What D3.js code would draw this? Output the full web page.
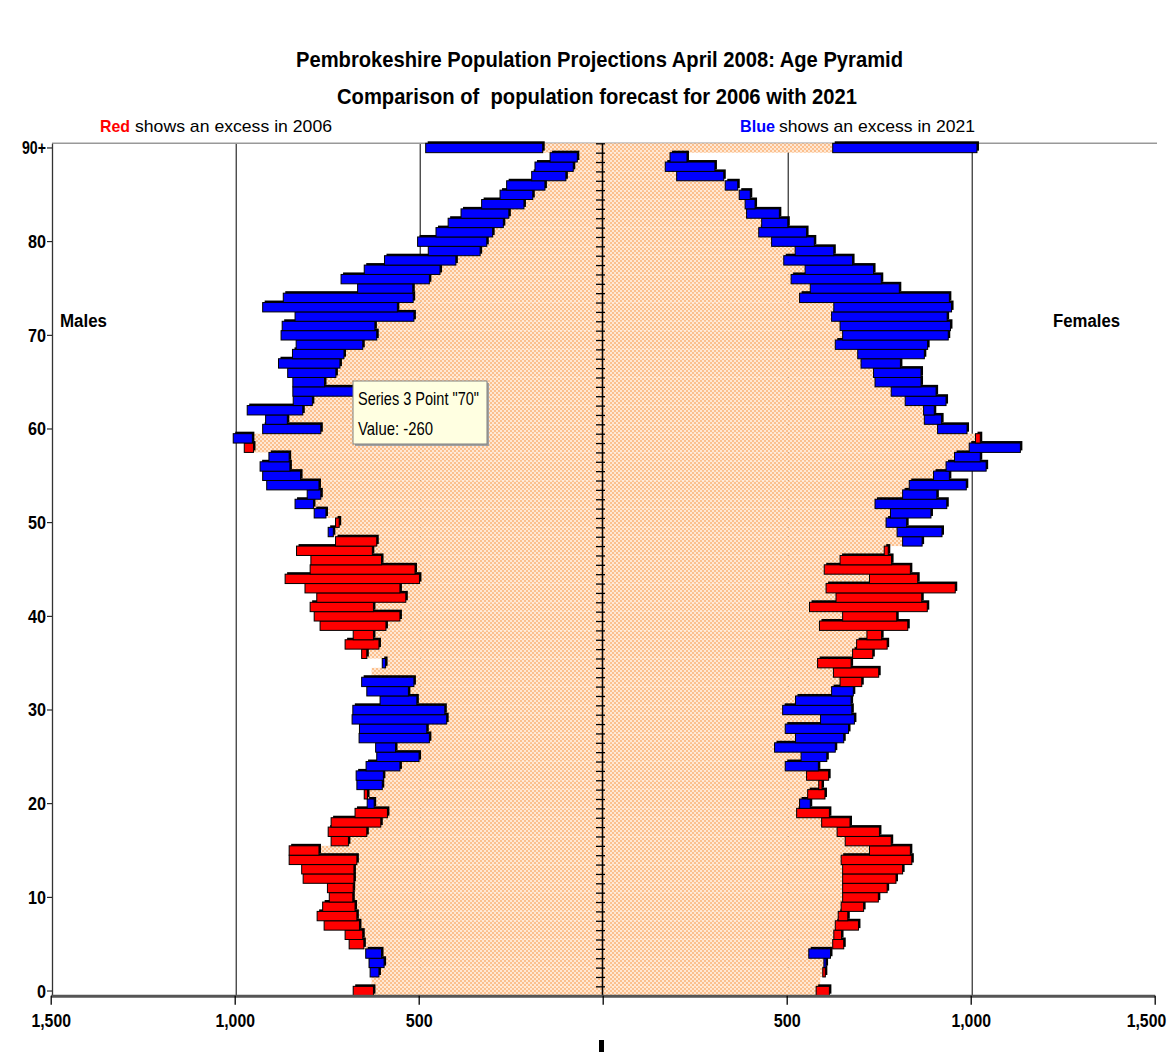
<!DOCTYPE html>
<html><head><meta charset="utf-8">
<script src="https://cdn.jsdelivr.net/npm/d3@7"></script>
<style>
body{margin:0;background:#fff;}
svg text{font-family:"Liberation Sans Narrow","Arial Narrow","Liberation Sans",Arial,sans-serif;}
</style></head><body>
<svg id="c" width="1173" height="1055"></svg>
<script>
// ---------- DATA ----------
const ages = d3.range(0, 91);
const yTickAges = [0, 10, 20, 30, 40, 50, 60, 70, 80, 90];
const yTickLabels = ["0", "10", "20", "30", "40", "50", "60", "70", "80", "90+"];
const xTickValues = [-1500, -1000, -500, 0, 500, 1000, 1500];
const gridValues = [500, 1000];

// Males, ages 0..90+
const male2006 = [678,628,608,594,601,689,700,757,776,761,
  743,748,814,818,852,852,738,746,738,673,
  621,648,599,596,551,499,563,471,478,424,
  429,505,528,513,628,590,655,700,678,768,
  784,795,777,809,863,795,793,832,726,732,
  726,752,786,766,771,821,850,852,974,952,
  766,857,815,789,675,756,725,714,703,652,
  614,619,513,558,515,516,471,442,399,333,
  315,299,270,255,214,190,157,100,80,69,163];
const male2021 = [623,628,632,635,644,649,652,661,668,673,
  679,678,676,676,668,771,691,641,603,585,
  640,639,668,670,643,614,617,662,661,681,
  679,605,641,655,628,599,641,608,623,589,
  551,623,535,551,498,510,601,626,614,746,
  716,784,836,803,913,924,931,907,949,1004,
  924,916,966,841,842,842,856,881,843,833,
  874,871,836,924,868,666,711,648,593,474,
  503,453,420,385,329,279,261,193,184,143,481];
// Females, ages 0..90+
const female2006 = [616,591,605,601,560,655,649,695,666,709,
  749,773,797,815,840,836,784,752,672,616,
  535,604,596,614,496,539,467,524,496,592,
  489,524,622,704,750,675,734,773,758,829,
  799,882,867,958,856,836,785,776,815,800,
  770,782,740,815,833,899,933,956,996,1026,
  910,874,872,822,784,740,736,702,693,632,
  652,645,622,628,535,564,512,550,492,523,
  459,424,432,391,387,371,333,201,170,183,625];
const female2021 = [580,591,598,607,619,625,628,632,640,648,
  652,652,652,652,648,725,659,637,595,527,
  564,557,587,554,586,609,632,655,668,684,
  677,675,681,645,627,584,679,690,718,589,
  652,562,634,607,725,602,645,765,868,922,
  826,892,935,908,988,942,1042,1026,1135,1013,
  990,921,901,933,906,865,865,809,874,883,
  939,945,936,948,942,806,757,736,679,628,
  575,554,503,480,414,401,367,329,305,229,1017];

// ---------- LAYOUT ----------
const svg = d3.select("#c");
const cx = 602.7, topY = 143.3, bottomY = 995.7, span = 552;
const RED = "#ff0000", BLUE = "#0000ff";

const xL = d3.scaleLinear().domain([0, 1500]).range([cx, cx - span]);
const xR = d3.scaleLinear().domain([0, 1500]).range([cx, cx + span]);
const xAxisScale = d3.scaleLinear().domain([-1500, 1500]).range([cx - span, cx + span]);
const y = d3.scaleBand().domain(ages).range([bottomY, topY]).padding(0);
const yLin = d3.scaleLinear().domain([0, 91]).range([bottomY, topY]);

// pattern
const defs = svg.append("defs");
const pat = defs.append("pattern").attr("id", "peach").attr("width", 4).attr("height", 4)
  .attr("patternUnits", "userSpaceOnUse");
pat.append("rect").attr("width", 4).attr("height", 4).attr("fill", "#ffe8d4");
pat.append("rect").attr("x", 0).attr("y", 0).attr("width", 2).attr("height", 2).attr("fill", "#fbc08e");
pat.append("rect").attr("x", 2).attr("y", 2).attr("width", 2).attr("height", 2).attr("fill", "#fbc08e");

// gridlines
const grid = svg.append("g");
gridValues.forEach(v => {
  [xL(v), xR(v)].forEach(gx => {
    grid.append("line").attr("x1", gx + 1.5).attr("x2", gx + 1.5).attr("y1", topY).attr("y2", bottomY)
      .attr("stroke", "#000").attr("stroke-width", 1);
  });
});
// top border
svg.append("line").attr("x1", 52).attr("x2", 1157).attr("y1", topY).attr("y2", topY)
  .attr("stroke", "#999").attr("stroke-width", 1.5);

// peach (common part)
const peach = svg.append("g");
ages.forEach(a => {
  const mMin = Math.min(male2006[a], male2021[a]);
  const fMin = Math.min(female2006[a], female2021[a]);
  peach.append("rect").attr("x", xL(mMin)).attr("width", xL(0) - xL(mMin))
    .attr("y", y(a)).attr("height", y.bandwidth()).attr("fill", "url(#peach)");
  peach.append("rect").attr("x", xR(0)).attr("width", xR(fMin) - xR(0))
    .attr("y", y(a)).attr("height", y.bandwidth()).attr("fill", "url(#peach)");
});

// excess bars with shadow
function drawSide(d06, d21, scale) {
  const g = svg.append("g");
  ages.forEach(a => {
    const diff = d06[a] - d21[a];
    if (diff === 0) return;
    const lo = Math.min(d06[a], d21[a]), hi = Math.max(d06[a], d21[a]);
    const x0 = Math.min(scale(lo), scale(hi)), x1 = Math.max(scale(lo), scale(hi));
    const yy = y(a), h = y.bandwidth();
    g.append("rect").attr("x", x0 + 2).attr("y", yy - 2).attr("width", x1 - x0).attr("height", h)
      .attr("fill", "#000");
    g.append("rect").attr("x", x0).attr("y", yy).attr("width", x1 - x0).attr("height", h)
      .attr("fill", diff > 0 ? RED : BLUE).attr("stroke", "#000").attr("stroke-width", 1);
  });
}
drawSide(male2006, male2021, xL);
drawSide(female2006, female2021, xR);

// center axis with ticks at every age boundary
svg.append("g").attr("transform", `translate(602,0)`)
  .call(d3.axisLeft(yLin).tickValues(d3.range(0, 92)).tickSize(6).tickSizeOuter(0).tickFormat(""))
  .call(g => g.selectAll("line,path").attr("stroke", "#000").attr("stroke-width", 1.3));
svg.append("g").attr("transform", `translate(602,0)`)
  .call(d3.axisRight(yLin).tickValues(d3.range(0, 92)).tickSize(3).tickSizeOuter(0).tickFormat(""))
  .call(g => g.selectAll("line,path").attr("stroke", "#000").attr("stroke-width", 1.3));

// left axis
function labelWidth(s) {
  let w = 0;
  for (const ch of s) w += ch === "," ? 3.5 : ch === "+" ? 6 : 9;
  return w;
}
svg.append("g").attr("transform", `translate(52,0)`)
  .call(d3.axisLeft(y).tickValues(yTickAges).tickSize(5).tickSizeOuter(0).tickPadding(1)
    .tickFormat((d, i) => yTickLabels[i]))
  .call(g => g.select(".domain").attr("stroke", "#333").attr("stroke-width", 1.3))
  .call(g => g.selectAll("text").attr("font-size", 18).attr("font-weight", "bold").attr("fill", "#000")
    .attr("dy", "0.36em")
    .attr("textLength", d => labelWidth(yTickLabels[yTickAges.indexOf(d)]))
    .attr("lengthAdjust", "spacingAndGlyphs"));

// bottom axis
const fmt = d3.format(",");
svg.append("g").attr("transform", `translate(0,${bottomY})`)
  .call(d3.axisBottom(xAxisScale).tickValues(xTickValues).tickSize(9).tickSizeOuter(0).tickPadding(9)
    .tickFormat(d => d === 0 ? "" : fmt(Math.abs(d))))
  .call(g => g.select(".domain").attr("stroke", "#555").attr("stroke-width", 3))
  .call(g => g.selectAll(".tick line").attr("stroke", "#000").attr("stroke-width", 1.3))
  .call(g => g.selectAll("text").attr("font-size", 19).attr("font-weight", "bold").attr("fill", "#000")
    .attr("text-anchor", d => d === 1500 ? "end" : "middle")
    .attr("dx", d => d === 1500 ? 11 : 0)
    .each(function(d) { if (d !== 0) d3.select(this).attr("textLength", labelWidth(fmt(Math.abs(d)))).attr("lengthAdjust", "spacingAndGlyphs"); }));

// small mark below axis
svg.append("rect").attr("x", 599).attr("y", 1040).attr("width", 5).attr("height", 12).attr("fill", "#000");

// titles
function txt(s, x, yb, size, weight, width, anchor, color) {
  return svg.append("text").attr("x", x).attr("y", yb).attr("font-size", size)
    .attr("font-weight", weight).attr("text-anchor", anchor || "start").attr("fill", color || "#000")
    .attr("textLength", width).attr("lengthAdjust", "spacingAndGlyphs")
    .style("white-space", "pre").text(s);
}
txt("Pembrokeshire Population Projections April 2008: Age Pyramid", 599.5, 67, 22, "bold", 607, "middle");
txt("Comparison of  population forecast for 2006 with 2021", 597, 104, 22, "bold", 520, "middle");

txt("Red", 100, 132, 17, "bold", 30, "start", RED);
txt("shows an excess in 2006", 135, 132, 17, "normal", 197, "start");
txt("Blue", 740, 132, 17, "bold", 35, "start", BLUE);
txt("shows an excess in 2021", 779, 132, 17, "normal", 196, "start");

txt("Males", 60, 327, 18, "bold", 47, "start");
txt("Females", 1053, 327, 18, "bold", 67, "start");

// tooltip
const tip = svg.append("g");
tip.append("rect").attr("x", 355).attr("y", 383).attr("width", 134).attr("height", 63).attr("fill", "#a0a0a0");
tip.append("rect").attr("x", 353).attr("y", 381).attr("width", 134).attr("height", 63)
  .attr("fill", "#ffffe1").attr("stroke", "#808080").attr("stroke-width", 1);
txt('Series 3 Point "70"', 358, 405, 19, "normal", 121, "start");
txt("Value: -260", 358, 435, 19, "normal", 75, "start");
</script>
</body></html>
